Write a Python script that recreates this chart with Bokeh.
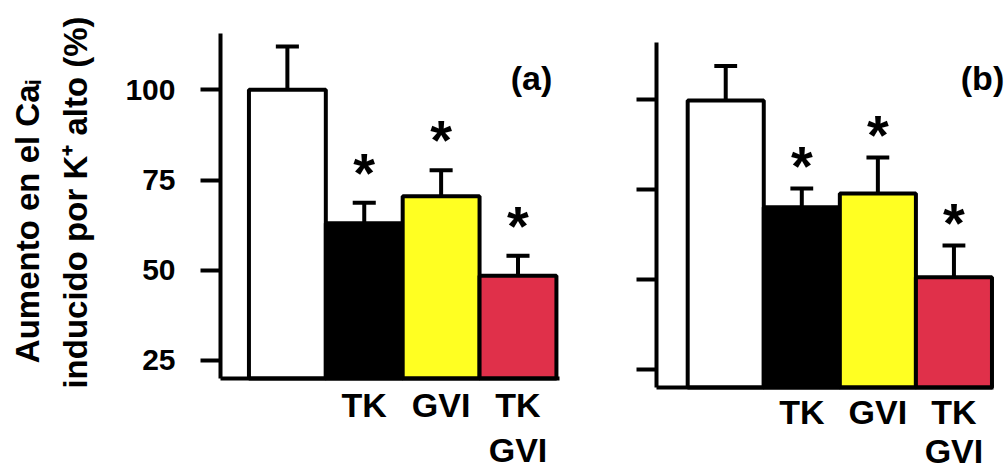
import math
from bokeh.plotting import figure
from bokeh.layouts import row
from bokeh.models import Range1d, FixedTicker, Label, CustomLabelingPolicy
from bokeh.core.properties import value
from bokeh.embed import file_html
from bokeh.resources import INLINE

# ---- data ----
categories = ["Control", "TK", "GVI", "TK+GVI"]
tick_labels = ["", "TK", "GVI", "TK\nGVI"]
y_ticks = [25, 50, 75, 100]
a_means = [100, 63, 70.5, 48.5]
a_errs = [12, 5.7, 7.2, 5.5]
b_means = [99.6, 70, 73.8, 50.6]
b_errs = [9.6, 5.2, 10, 8.8]
significant = [False, True, True, True]
bar_colors = ["#FFFFFF", "#000000", "#FFFF22", "#E0304A"]
y_title = ["Aumento en el Caᵢ", "inducido por K⁺ alto (%)"]

FONT = "Liberation Sans"
Y0 = 20
H = 475


def panel(means, errs, label, width, axis_px, frame_top_px, x_lim, y_top, show_ylabels,
          xlab_standoff, xlab_line_height, ast_gap, label_px):
    # full-canvas frame; axes sit at fixed locations inside it
    xs_per_px = (x_lim[1] - x_lim[0] + 0.0) / (x_lim[2])
    ys_per_px = (y_top - Y0) / 345.0
    x0 = x_lim[0] - axis_px * xs_per_px
    x1 = x0 + width * xs_per_px
    yt = y_top + frame_top_px * ys_per_px
    yb = yt - H * ys_per_px
    p = figure(width=width, height=H, output_backend="svg", toolbar_location=None,
               x_range=Range1d(x0, x1), y_range=Range1d(yb, yt),
               min_border_left=0, min_border_right=0, min_border_top=0, min_border_bottom=0)
    p.outline_line_color = None
    p.grid.visible = False
    p.background_fill_color = "white"
    p.border_fill_color = "white"

    xs = list(range(len(means)))
    tops = [m + e for m, e in zip(means, errs)]
    p.vbar(x=xs, top=means, bottom=Y0, width=1.0, fill_color=bar_colors,
           line_color="black", line_width=4)
    p.segment(x0=xs, y0=means, x1=xs, y1=tops, line_color="black", line_width=4)
    p.segment(x0=[x - 0.15 for x in xs], y0=tops, x1=[x + 0.15 for x in xs], y1=tops,
              line_color="black", line_width=4)

    ax = [x for x, s in zip(xs, significant) if s]
    ay = [t + ast_gap for t, s in zip(tops, significant) if s]
    p.text(x=ax, y=ay, text=["*"] * len(ax), text_align="center", text_baseline="middle",
           text_font=value(FONT), text_font_style="bold", text_font_size="56px",
           text_color="black")

    p.add_layout(Label(x=x0 + label_px[0] * xs_per_px, y=yt - label_px[1] * ys_per_px,
                       text=label, text_align="center",
                       text_baseline="middle", text_font=FONT, text_font_style="bold",
                       text_font_size="34px", text_color="black"))

    ya = p.yaxis[0]
    ya.fixed_location = x_lim[0]
    ya.bounds = (Y0, y_top)
    ya.ticker = FixedTicker(ticks=y_ticks)
    ya.major_tick_out = 20
    ya.major_tick_in = 0
    ya.minor_tick_line_color = None
    ya.axis_line_width = 4
    ya.major_tick_line_width = 4
    ya.major_label_text_font = FONT
    ya.major_label_text_font_style = "bold"
    ya.major_label_text_font_size = "30px"
    ya.major_label_text_color = "black"
    ya.major_label_standoff = 25
    if not show_ylabels:
        ya.major_label_policy = CustomLabelingPolicy(code="return []")
        ya.major_label_standoff = 0

    xa = p.xaxis[0]
    label_ticks = [x for x, t in zip(xs, tick_labels) if t]
    xa.ticker = FixedTicker(ticks=label_ticks)
    xa.major_label_overrides = {x: t for x, t in zip(xs, tick_labels) if t}
    xa.fixed_location = Y0
    xa.bounds = (x_lim[0], x_lim[1])
    xa.major_tick_out = 0
    xa.major_tick_in = 0
    xa.minor_tick_line_color = None
    xa.axis_line_width = 4
    xa.major_label_text_font = FONT
    xa.major_label_text_font_style = "bold"
    xa.major_label_text_font_size = "34px"
    xa.major_label_text_line_height = xlab_line_height
    xa.major_label_text_color = "black"
    xa.major_label_standoff = xlab_standoff
    return p, x0, yt, xs_per_px, ys_per_px


# x_lim: (axis start, axis end, axis length in px)
pa, ax0, ayt, axpp, aypp = panel(a_means, a_errs, "(a)", 590, 220, 33, (-0.87, 3.54, 339),
                                 115.6, True, 7, 1.2, 8.4, (531, 77))
for txt, (px, py) in zip(y_title, [(27, 221), (75, 202)]):
    pa.add_layout(Label(x=ax0 + px * axpp, y=ayt - py * aypp, text=txt, angle=math.pi / 2,
                        text_align="center", text_baseline="middle", text_font=FONT,
                        text_font_style="bold", text_font_size="33px", text_color="black"))

pb, *_ = panel(b_means, b_errs, "(b)", 416, 66, 42, (-0.91, 3.52, 337),
               115.7, False, 5, 1.05, 6.4, (392, 77))

layout = row(pa, pb)
open("out.html", "w").write(file_html(layout, INLINE))
